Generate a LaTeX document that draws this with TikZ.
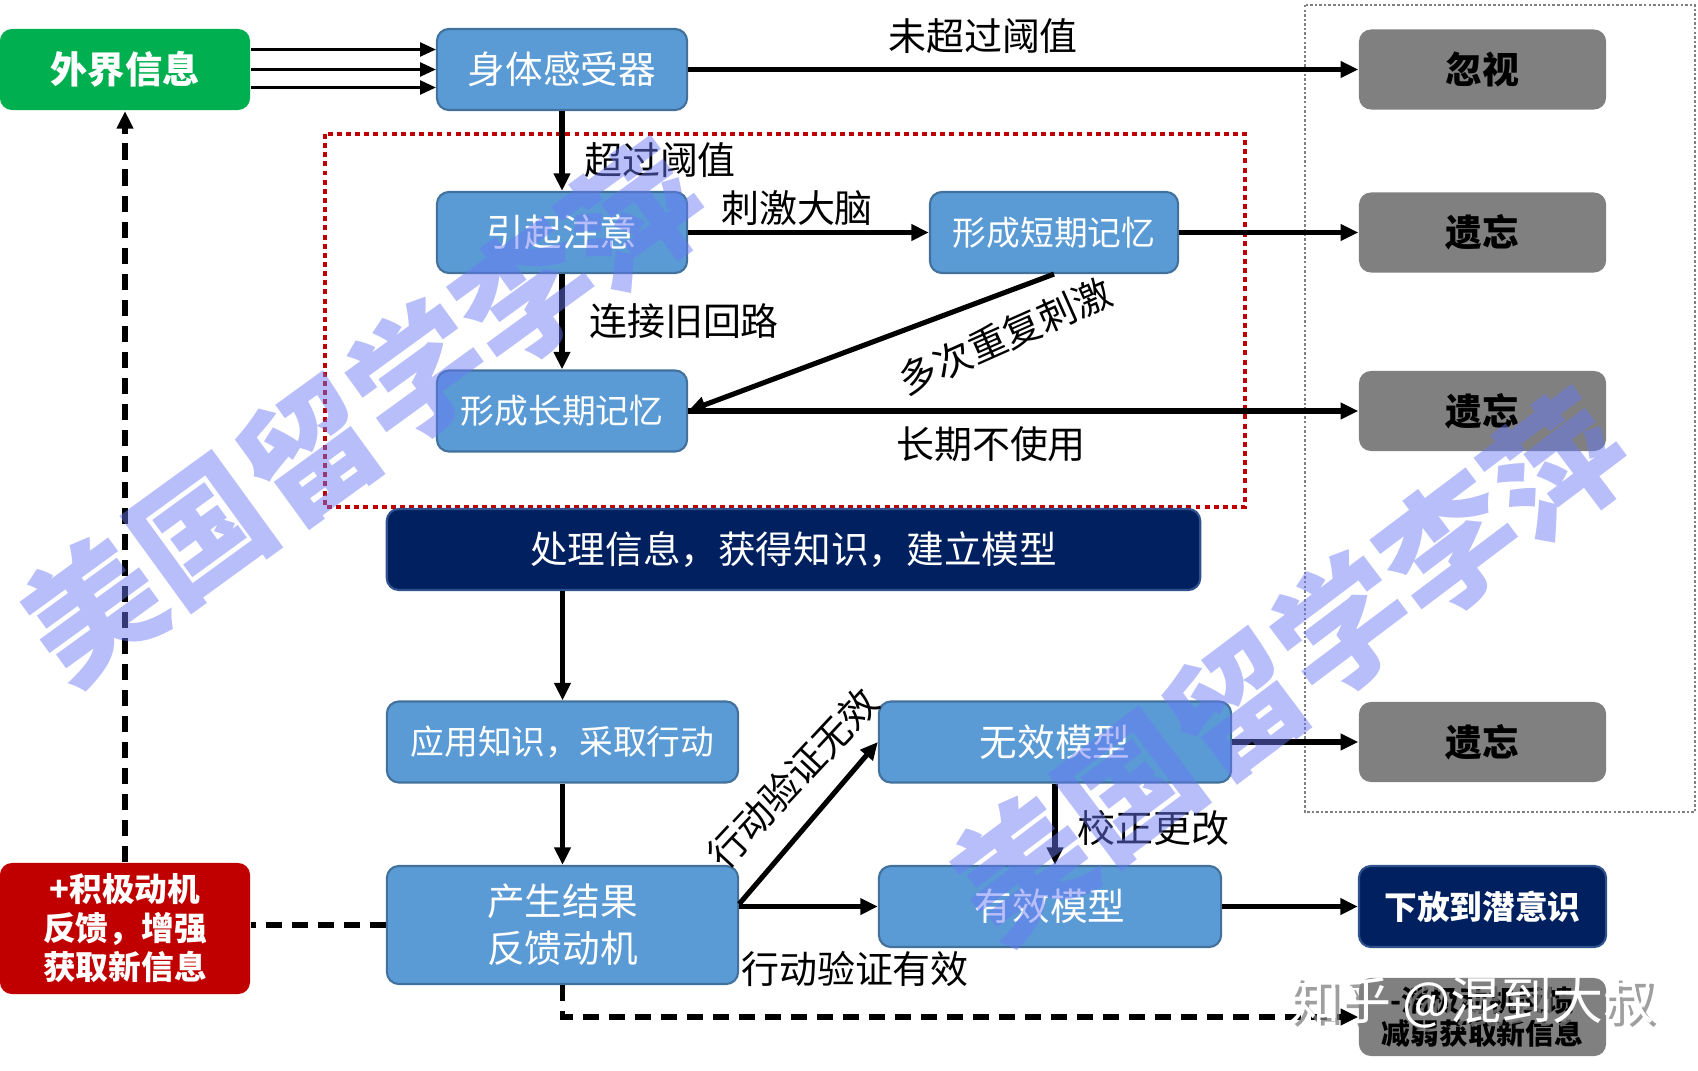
\documentclass[tikz,border=0pt]{standalone}
\usepackage{fontspec}
\newfontfamily\cjk{Noto Sans CJK SC}
\usepackage{tikz}
\usetikzlibrary{arrows.meta, calc}
\usepackage{xcolor}
\definecolor{boxblue}{HTML}{5B9BD5}
\definecolor{boxline}{HTML}{41719C}
\definecolor{navy}{HTML}{002060}
\definecolor{navyline}{HTML}{2F528F}
\definecolor{endgray}{HTML}{808080}
\definecolor{infogreen}{HTML}{00B050}
\definecolor{posred}{HTML}{C00000}
\definecolor{wmblue}{RGB}{105,120,245}

\begin{document}
\begin{tikzpicture}[x=0.01cm, y=-0.01cm,
    box/.style={rectangle, rounded corners=1.2mm, draw=boxline, line width=0.6pt, fill=boxblue, text=white, minimum width=2.5cm, minimum height=0.81cm, inner sep=0pt, align=center, font=\cjk\fontsize{10.7pt}{13.3pt}\selectfont},
    darkbox/.style={box, fill=navy, draw=navyline},
    endbox/.style={rectangle, rounded corners=1.2mm, fill=endgray, minimum width=2.47cm, minimum height=0.8cm, inner sep=0pt, align=center, font=\cjk\bfseries\fontsize{10.5pt}{12pt}\selectfont},
    lbl/.style={font=\cjk\fontsize{10.8pt}{13pt}\selectfont, inner sep=0pt},
    arr/.style={line width=1.45pt, -{Triangle[length=5pt,width=4.5pt]}},
    thinarr/.style={line width=0.6pt, -{Triangle[length=4.5pt,width=4pt]}},
    fbline/.style={line width=1.6pt, dash pattern=on 4.6pt off 2.8pt},
    redframe/.style={draw=posred, line width=1.3pt, dash pattern=on 1.4pt off 1.2pt},
    grayframe/.style={draw=endgray, line width=0.8pt, dash pattern=on 0.7pt off 0.6pt},
    wmark/.style={font=\cjk\bfseries\fontsize{38pt}{40pt}\selectfont, text=wmblue, opacity=0.48, inner sep=0pt}]
\path[use as bounding box, fill=white] (0,0) rectangle (1698,1070);
% 虚线框
\draw[redframe] (325,134) rectangle (1245,507);
\draw[grayframe] (1305,5) rectangle (1695,812);
% 方框
\node[box, fill=infogreen, draw=none, font=\cjk\bfseries\fontsize{10.6pt}{12pt}\selectfont] (info) at (125,69.5) {外界信息};
\node[box] (sense) at (562,69.5) {身体感受器};
\node[endbox] (ignore) at (1482.5,69.5) {忽视};
\node[box] (attn) at (562,232.5) {引起注意};
\node[box, minimum width=2.48cm, font=\cjk\fontsize{9.6pt}{12pt}\selectfont] (stm) at (1054,232.5) {形成短期记忆};
\node[endbox] (forget1) at (1482.5,232.5) {遗忘};
\node[box, font=\cjk\fontsize{9.6pt}{12pt}\selectfont] (ltm) at (562,411) {形成长期记忆};
\node[endbox] (forget2) at (1482.5,411) {遗忘};
\node[darkbox, minimum width=8.13cm, font=\cjk\fontsize{10.7pt}{13pt}\selectfont] (proc) at (793.5,549.5) {处理信息，获得知识，建立模型};
\node[box, minimum width=3.51cm, font=\cjk\fontsize{9.6pt}{12pt}\selectfont] (apply) at (562.5,742) {应用知识，采取行动};
\node[box, minimum width=3.52cm] (invalid) at (1055,742) {无效模型};
\node[endbox] (forget3) at (1482.5,742) {遗忘};
\node[box, minimum width=3.51cm, minimum height=1.18cm] (result) at (562.5,925) {产生结果\\反馈动机};
\node[box, minimum width=3.42cm] (valid) at (1050,906.5) {有效模型};
\node[darkbox, minimum width=2.47cm, font=\cjk\bfseries\fontsize{9.3pt}{12pt}\selectfont] (subcon) at (1482.5,906.5) {下放到潜意识};
\node[endbox, fill=posred, text=white, minimum width=2.5cm, minimum height=1.31cm, font=\cjk\bfseries\fontsize{9.3pt}{11.1pt}\selectfont] (pos) at (125,928.5) {+积极动机\\反馈，增强\\获取新信息};
\node[endbox, minimum height=0.78cm, font=\cjk\bfseries\fontsize{8.2pt}{9.2pt}\selectfont] (neg) at (1482.5,1017) {-消极动机反馈\\减弱获取新信息};
% 连线
\foreach \dy in {-20,0,18}
  \draw[thinarr] ($(info.east)+(0,\dy)$) -- ($(sense.west)+(0,\dy)$);
\draw[arr] (sense) -- (ignore);
\draw[arr] (sense) -- (attn);
\draw[arr] (attn) -- (stm);
\draw[arr] (stm) -- (forget1);
\draw[arr] (attn) -- (ltm);
\draw[arr] (stm.south) -- (ltm.east);
\draw[arr] (ltm) -- (forget2);
\draw[arr] (apply.north |- proc.south) -- (apply);
\draw[arr] (apply) -- (result);
\draw[arr] ($(result.east)+(0,-21)$) -- (invalid.west);
\draw[arr] (result.east |- valid.west) -- (valid.west);
\draw[arr] (invalid) -- (forget3);
\draw[arr] (invalid.south) -- (invalid.south |- valid.north);
\draw[arr] (valid) -- (subcon);
\draw[fbline] (result.west) -- (result.west -| pos.east);
\draw[fbline, -{Triangle[length=5pt,width=4.5pt]}] (pos) -- (info);
\draw[fbline, -{Triangle[length=5pt,width=4.5pt]}] (result.south) |- (neg.west);
% 标注
\node[lbl] (over0) at (983,36) {未超过阈值};
\node[lbl] (over1) at (660,160) {超过阈值};
\node[lbl] (stim) at (797,208) {刺激大脑};
\node[lbl] (link) at (684,321) {连接旧回路};
\node[lbl, rotate=24] (repeat) at (1005,336) {多次重复刺激};
\node[lbl] (unused) at (991,444) {长期不使用};
\node[lbl, rotate=47] (vinvalid) at (793,778) {行动验证无效};
\node[lbl] (vvalid) at (855,969) {行动验证有效};
\node[lbl] (fix) at (1153,828) {校正更改};
% 水印
\node[wmark, rotate=36] (wm1) at (363,412) {美国留学李萍};
\node[wmark, rotate=37] (wm2) at (1289,666) {美国留学李萍};
\node[font=\cjk\fontsize{14.5pt}{16pt}\selectfont, text=gray, opacity=0.75] (zhshadow) at (1476,1006) {知乎 @混到大叔};
\node[font=\cjk\fontsize{14.5pt}{16pt}\selectfont, text=white] (zh) at (1472,1002) {知乎 @混到大叔};
\end{tikzpicture}
\end{document}
